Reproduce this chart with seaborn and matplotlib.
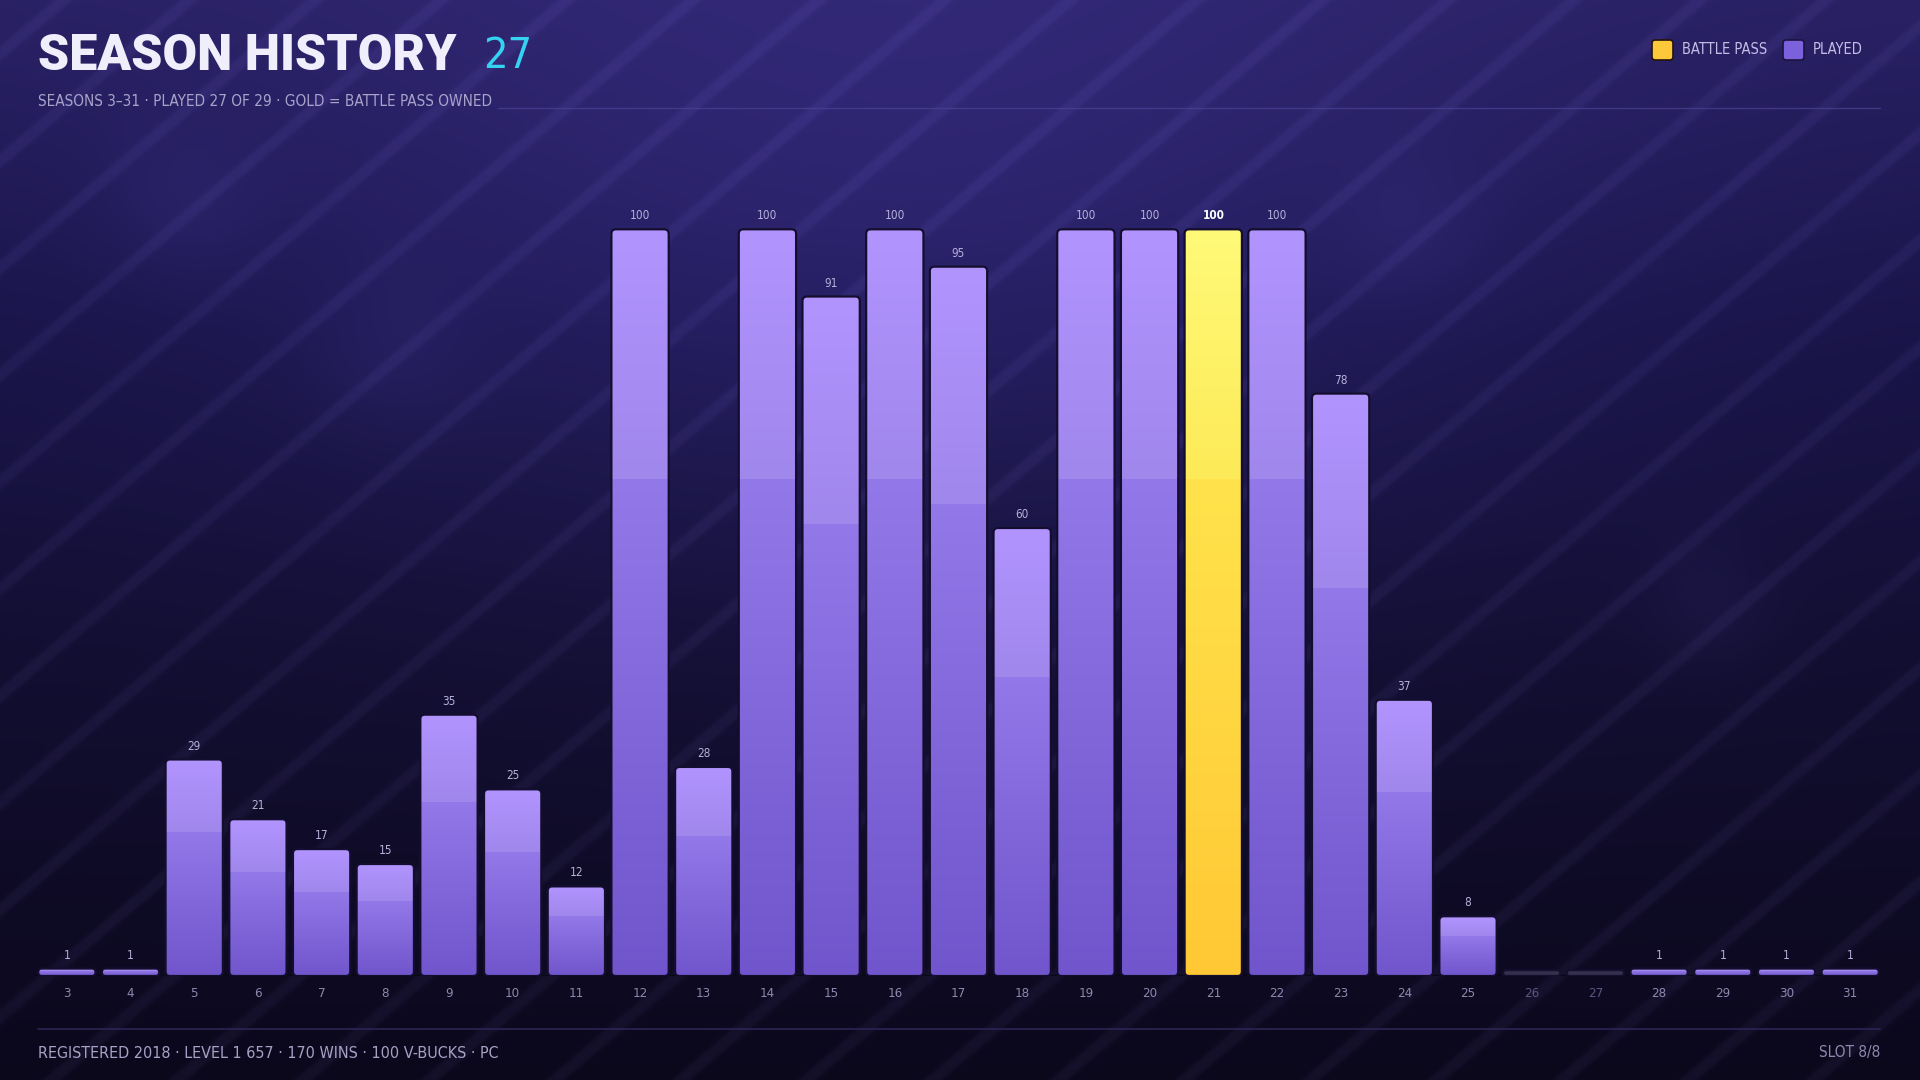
import numpy as np
import pandas as pd
import matplotlib
matplotlib.use("Agg")
import matplotlib.pyplot as plt
import seaborn as sns
from matplotlib.patches import FancyBboxPatch

# ---- data ----
seasons = list(range(3, 32))
progress = [1, 1, 29, 21, 17, 15, 35, 25, 12, 100, 28, 100, 91, 100, 95, 60,
            100, 100, 100, 100, 78, 37, 8, 0, 0, 1, 1, 1, 1]
not_played = [26, 27]
battle_pass_seasons = [21]

title = "SEASON HISTORY"
title_count = "27"
subtitle = "SEASONS 3\u201331 \u00b7 PLAYED 27 OF 29 \u00b7 GOLD = BATTLE PASS OWNED"
footer_left = "REGISTERED 2018 \u00b7 LEVEL 1 657 \u00b7 170 WINS \u00b7 100 V-BUCKS \u00b7 PC"
footer_right = "SLOT 8/8"
legend_labels = ["BATTLE PASS", "PLAYED"]

sns.set_theme(style="white")
plt.rcParams['font.family'] = ['DejaVu Sans']
plt.rcParams['font.stretch'] = 'condensed'
NARROW = dict(family=['DejaVu Sans'], stretch='condensed')

W, H = 1920, 1080
fig = plt.figure(figsize=(19.2, 10.8), dpi=100)

# ---- background (pixel coords) ----
bg = fig.add_axes([0, 0, 1, 1])
yy, xx = np.mgrid[0:H, 0:W].astype(float)
t = yy / H
stops = np.array([0.0, 0.3, 0.6, 1.0])
cols = np.array([[40, 32, 98], [25, 20, 72], [18, 14, 49], [11, 8, 28]]) / 255
img = np.stack([np.interp(t, stops, cols[:, c]) for c in range(3)], axis=-1)
# soft glow in the upper middle
glow = np.exp(-(((xx - 900) / 650) ** 2 + ((yy - 220) / 380) ** 2))
img += glow[..., None] * np.array([0.055, 0.045, 0.11])
# thin diagonal light stripes
phase = (0.85 * xx + yy) % 107
stripe = 1 / (1 + ((phase - 53) / 7.5) ** 6)
img += stripe[..., None] * np.array([0.034, 0.031, 0.048])
# faint bokeh blobs
for bx, by, br in [(184, 202, 55), (1408, 227, 50), (1708, 606, 45), (392, 355, 60)]:
    g = np.exp(-((xx - bx) ** 2 + (yy - by) ** 2) / (2 * br ** 2))
    img += g[..., None] * np.array([0.022, 0.020, 0.040])
bg.imshow(np.clip(img, 0, 1), extent=(0, W, H, 0), aspect='auto')
bg.set_xlim(0, W)
bg.set_ylim(H, 0)
bg.axis('off')

bg.text(38, 57, title, fontsize=36, color='#f1eefb', va='center', ha='left',
        family=['Roboto', 'Lato', 'DejaVu Sans'], fontweight='black')
bg.text(483, 56, title_count, fontsize=31, color='#36d2f2', va='center', ha='left', **NARROW)
sub = bg.text(38, 102, subtitle, fontsize=11, color='#a9a3cc', va='center', ha='left', **NARROW)

# legend
for lx, col, ec, lab in [(1652, '#fcc93a', '#24140c', legend_labels[0]),
                         (1783, '#7b62dc', '#1b1440', legend_labels[1])]:
    bg.add_patch(FancyBboxPatch((lx, 40), 21, 20, boxstyle="round,pad=0,rounding_size=3",
                                facecolor=col, edgecolor=ec, lw=1.2))
    bg.text(lx + 30, 50, lab, fontsize=10.5, color='#c4bce6', va='center', ha='left', **NARROW)

bg.plot([38, 1880], [1029, 1029], color='#2b2552', lw=1.2)
bg.text(38, 1053, footer_left, fontsize=11.5, color='#a7a1c6', va='center', ha='left', **NARROW)
bg.text(1880, 1053, footer_right, fontsize=11, color='#8e88ae', va='center', ha='right', **NARROW)

# header rule starts right after the subtitle
fig.canvas.draw()
sub_end = bg.transData.inverted().transform(
    (sub.get_window_extent().x1, 0))[0]
bg.plot([sub_end + 6, 1880], [108, 108], color='#4b4394', lw=1, alpha=0.7)

# ---- chart ----
ax = fig.add_axes([35 / W, 1 - 976 / H, (1882 - 35) / W, (976 - 130) / H])
ax.patch.set_alpha(0)
df = pd.DataFrame({
    'season': [str(s) for s in seasons],
    'progress': progress,
    'shown': np.maximum(progress, 0.8),
})
sns.barplot(data=df, x='season', y='shown', ax=ax, width=0.9, color='#8a70e4',
            saturation=1, linewidth=0)
ax.set_xlim(-0.5, 28.5)
ax.set_ylim(0, 113.3)

px_x = (1882 - 35) / 29
px_y = (976 - 130) / 113.3
m_aspect = px_x / px_y


def ramp(c0, c1, n):
    c0 = np.array(matplotlib.colors.to_rgb(c0))
    c1 = np.array(matplotlib.colors.to_rgb(c1))
    f = np.linspace(0, 1, n)[:, None]
    return c0 + (c1 - c0) * f


purple_grad = np.vstack([ramp('#7055cc', '#9278e8', 266), ramp('#a087ec', '#b294ff', 134)])
gold_grad = np.vstack([ramp('#ffc834', '#ffe34c', 266), ramp('#fdea58', '#fffa78', 134)])

for i, (bar, s, v) in enumerate(zip(ax.patches, seasons, progress)):
    x0, w, h = bar.get_x(), bar.get_width(), bar.get_height()
    bar.set_visible(False)
    r = min(0.07, h / 2 / m_aspect * 0.98)
    face = '#34304c' if s in not_played else 'none'
    box = FancyBboxPatch((x0, 0), w, h, boxstyle=f"round,pad=0,rounding_size={r}",
                         mutation_aspect=m_aspect, facecolor=face,
                         edgecolor='#140e2e', lw=1.6, zorder=3)
    ax.add_patch(box)
    if s not in not_played:
        grad = gold_grad if s in battle_pass_seasons else purple_grad
        im = ax.imshow(grad[:, None, :], extent=(x0, x0 + w, 0, h), origin='lower',
                       aspect='auto', interpolation='nearest', zorder=2)
        im.set_clip_path(box)
        gold = s in battle_pass_seasons
        ax.annotate(str(v), (i, h), xytext=(0, 5), textcoords='offset points',
                    ha='center', va='bottom', fontsize=8.5,
                    color='#ffffff' if gold else '#b7b0da',
                    fontweight='bold' if gold else 'normal', zorder=4, **NARROW)

ax.set_xlim(-0.5, 28.5)
ax.set_ylim(0, 113.3)
ax.axhline(0, color='#0a0718', lw=2.5, zorder=1)
for sp in ax.spines.values():
    sp.set_visible(False)
ax.set_yticks([])
ax.set_xlabel('')
ax.set_ylabel('')
ax.tick_params(axis='x', length=0, pad=8, labelsize=9.5)
for lab, s in zip(ax.get_xticklabels(), seasons):
    lab.set_color('#5c5680' if s in not_played else '#8e88ae')
    lab.set_fontstretch('condensed')

fig.savefig('out.png', dpi=100)
